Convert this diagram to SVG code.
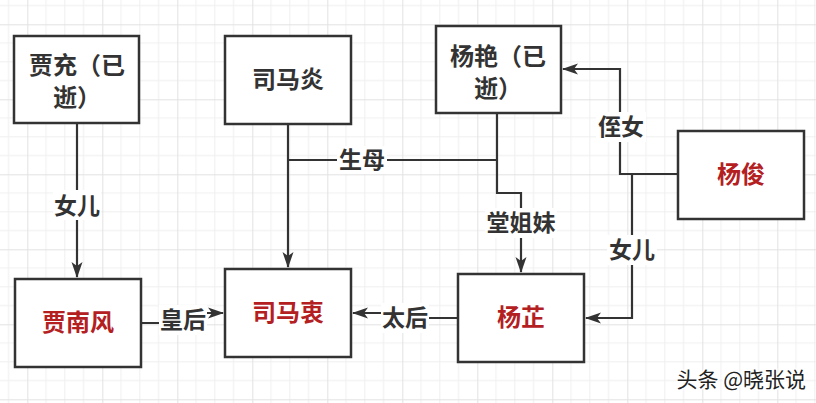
<svg xmlns="http://www.w3.org/2000/svg" width="816" height="403" viewBox="0 0 816 403">
<style>
.box{fill:#fff;stroke:#333;stroke-width:2.5}
.t{font-family:"Noto Sans CJK SC","Noto Sans",sans-serif;font-weight:bold;font-size:24px;text-anchor:middle;fill:#333}
.r{fill:#b3201f}
.lbl{font-family:"Noto Sans CJK SC","Noto Sans",sans-serif;font-weight:bold;font-size:23px;text-anchor:middle;fill:#333}
.bg{fill:#fff}
.e{fill:none;stroke:#333;stroke-width:2.2}
.wm{font-family:"Noto Sans CJK SC","Noto Sans",sans-serif;font-size:21px;fill:#222;stroke:#fff;stroke-width:3;paint-order:stroke;text-anchor:end}
</style>
<defs>
<pattern id="grid" x="27.3" y="24.3" width="75" height="75" patternUnits="userSpaceOnUse">
<path d="M18.75,0V75M37.5,0V75M56.25,0V75M0,18.75H75M0,37.5H75M0,56.25H75" stroke="#efefef" stroke-width="1" fill="none"/>
<path d="M0.5,0V75M0,0.5H75" stroke="#e2e2e2" stroke-width="1" fill="none"/>
</pattern>
<marker id="arr" markerUnits="userSpaceOnUse" markerWidth="16" markerHeight="12" refX="15" refY="6" orient="auto">
<path d="M0,0.5 L16,6 L0,11.5 L4,6 Z" fill="#333"/>
</marker>
</defs>
<rect width="816" height="403" fill="#fff"/>
<rect width="816" height="403" fill="url(#grid)"/>
<g id="connectors">
<path class="e" d="M77,124 V277" marker-end="url(#arr)"/>
<path class="e" d="M288,124 V267" marker-end="url(#arr)"/>
<path class="e" d="M497,113 V193 H521 V272" marker-end="url(#arr)"/>
<path class="e" d="M497,160 H288"/>
<path class="e" d="M678,174 H620 V69 H563" marker-end="url(#arr)"/>
<path class="e" d="M632,174 V318 H586" marker-end="url(#arr)"/>
<path class="e" d="M141,323 H183 V313 H223" marker-end="url(#arr)"/>
<path class="e" d="M458,318 H405 V313 H353" marker-end="url(#arr)"/>
<g id="labels">
<rect class="bg" x="53" y="190" width="48" height="30"/>
<text class="lbl" x="77" y="214">女儿</text>
<rect class="bg" x="337" y="146" width="50" height="28"/>
<text class="lbl" x="362" y="168">生母</text>
<rect class="bg" x="485" y="208" width="72" height="30"/>
<text class="lbl" x="521" y="231">堂姐妹</text>
<rect class="bg" x="596" y="112" width="50" height="30"/>
<text class="lbl" x="621" y="135">侄女</text>
<rect class="bg" x="607" y="235" width="50" height="30"/>
<text class="lbl" x="632" y="258">女儿</text>
<rect class="bg" x="159" y="305" width="48" height="30"/>
<text class="lbl" x="183" y="328">皇后</text>
<rect class="bg" x="381" y="303" width="48" height="30"/>
<text class="lbl" x="405" y="326">太后</text>
</g>
</g>
<g id="jiachong">
<rect class="box" x="14" y="36" width="125" height="87"/>
<text class="t" x="77" y="74">贾充（已<tspan x="77" dy="32">逝）</tspan></text>
</g>
<g id="simayan">
<rect class="box" x="225" y="36" width="126" height="88"/>
<text class="t" x="288" y="88">司马炎</text>
</g>
<g id="yangyan">
<rect class="box" x="436" y="26" width="125" height="87"/>
<text class="t" x="498" y="65">杨艳（已<tspan x="498" dy="32">逝）</tspan></text>
</g>
<g id="yangjun">
<rect class="box" x="678" y="131" width="126" height="88"/>
<text class="t r" x="741" y="183">杨俊</text>
</g>
<g id="jianafeng">
<rect class="box" x="15" y="279" width="126" height="88"/>
<text class="t r" x="78" y="331">贾南风</text>
</g>
<g id="simazhong">
<rect class="box" x="225" y="269" width="126" height="88"/>
<text class="t r" x="288" y="321">司马衷</text>
</g>
<g id="yangzhi">
<rect class="box" x="458" y="274" width="126" height="88"/>
<text class="t r" x="521" y="326">杨芷</text>
</g>
<text class="wm" x="806" y="387">头条 @晓张说</text>
</svg>
